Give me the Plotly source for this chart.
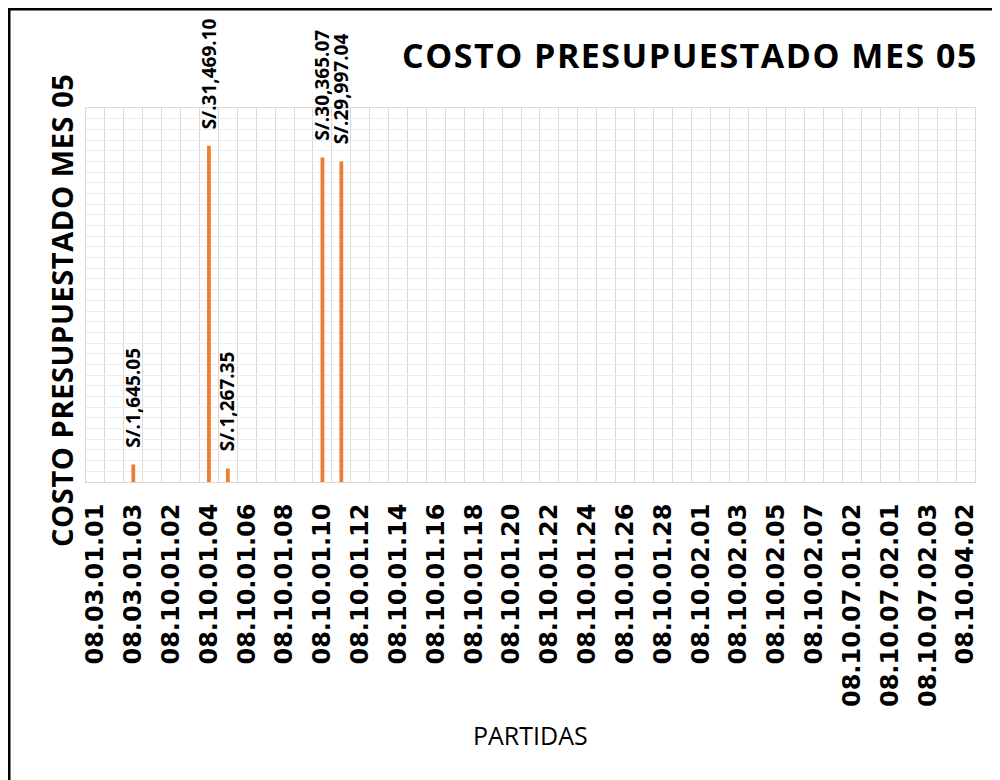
import plotly.graph_objects as go

# partidas (47 categories, only every other one gets a visible label in the original)
partidas = [
    "08.03.01.01", "08.03.01.02", "08.03.01.03",
    "08.10.01.01", "08.10.01.02", "08.10.01.03", "08.10.01.04", "08.10.01.05",
    "08.10.01.06", "08.10.01.07", "08.10.01.08", "08.10.01.09", "08.10.01.10",
    "08.10.01.11", "08.10.01.12", "08.10.01.13", "08.10.01.14", "08.10.01.15",
    "08.10.01.16", "08.10.01.17", "08.10.01.18", "08.10.01.19", "08.10.01.20",
    "08.10.01.21", "08.10.01.22", "08.10.01.23", "08.10.01.24", "08.10.01.25",
    "08.10.01.26", "08.10.01.27", "08.10.01.28", "08.10.01.29",
    "08.10.02.01", "08.10.02.02", "08.10.02.03", "08.10.02.04", "08.10.02.05",
    "08.10.02.06", "08.10.02.07",
    "08.10.07.01.01", "08.10.07.01.02", "08.10.07.01.03",
    "08.10.07.02.01", "08.10.07.02.02", "08.10.07.02.03",
    "08.10.04.01", "08.10.04.02",
]

costo_mes05 = [
    0, 0, 1645.05,
    0, 0, 0, 31469.10, 1267.35,
    0, 0, 0, 0, 30365.07,
    29997.04, 0, 0, 0, 0,
    0, 0, 0, 0, 0,
    0, 0, 0, 0, 0,
    0, 0, 0, 0,
    0, 0, 0, 0, 0,
    0, 0,
    0, 0, 0,
    0, 0, 0,
    0, 0,
]

titulo = "COSTO PRESUPUESTADO MES 05"
eje_x = "PARTIDAS"

tick_text = [p if i % 2 == 0 else "" for i, p in enumerate(partidas)]

fig = go.Figure()
fig.add_trace(go.Bar(
    x=partidas,
    y=costo_mes05,
    width=0.2,
    marker=dict(color="#ED7D31", line=dict(width=0)),
    hovertemplate="%{x}<br>S/.%{y:,.2f}<extra></extra>",
))

# data labels above the non-empty bars, like Excel's "outside end"
annotations = []
for p, v in zip(partidas, costo_mes05):
    if v:
        annotations.append(dict(
            x=p, y=v, xref="x", yref="y",
            text=f"S/.{v:,.2f}",
            textangle=-90, showarrow=False,
            xanchor="center", yanchor="bottom", yshift=15,
            font=dict(family="Open Sans", size=19, color="#000000", weight="bold"),
        ))

annotations += [
    dict(text=f'<span style="letter-spacing:1.5px">{titulo}</span>',
         xref="paper", yref="paper", x=1.0056, y=1.1417,
         xanchor="right", yanchor="middle", showarrow=False,
         font=dict(family="Open Sans", size=34, color="#000000", weight="bold")),
    dict(text=f'<span style="letter-spacing:0.6px">{titulo}</span>',
         xref="paper", yref="paper", x=-0.027, y=0.46,
         xanchor="center", yanchor="middle", textangle=-90, showarrow=False,
         font=dict(family="Open Sans", size=29, color="#000000", weight="bold")),
    dict(text=eje_x, xref="paper", yref="paper", x=0.5, y=-0.676,
         xanchor="center", yanchor="middle", showarrow=False,
         font=dict(family="Open Sans", size=25, color="#000000")),
]

fig.update_layout(
    width=992,
    height=772,
    margin=dict(l=78, r=25, t=100, b=298),
    paper_bgcolor="white",
    plot_bgcolor="white",
    showlegend=False,
    xaxis=dict(
        type="category",
        tickmode="array",
        tickvals=partidas,
        ticktext=tick_text,
        tickangle=-90,
        tickson="boundaries",
        ticks="",
        ticklabelstandoff=11,
        tickfont=dict(family="DejaVu Sans", size=24, color="#000000", weight="bold"),
        showgrid=True,
        gridcolor="#d9d9d9",
        gridwidth=1,
        showline=True,
        linecolor="#d9d9d9",
        mirror=True,
        automargin=False,
    ),
    yaxis=dict(
        range=[0, 35000],
        dtick=1000,
        showticklabels=False,
        showgrid=True,
        gridcolor="#ececec",
        gridwidth=1,
        zeroline=False,
        showline=True,
        linecolor="#d9d9d9",
        mirror=True,
        automargin=False,
    ),
    annotations=annotations,
    shapes=[
        dict(type="rect", xref="paper", yref="paper",
             x0=-0.0866, y0=-1.5, x1=1.5, y1=1.2647,
             line=dict(color="#000000", width=3), fillcolor="rgba(0,0,0,0)",
             layer="above"),
    ],
)

fig.write_html("out.html")
